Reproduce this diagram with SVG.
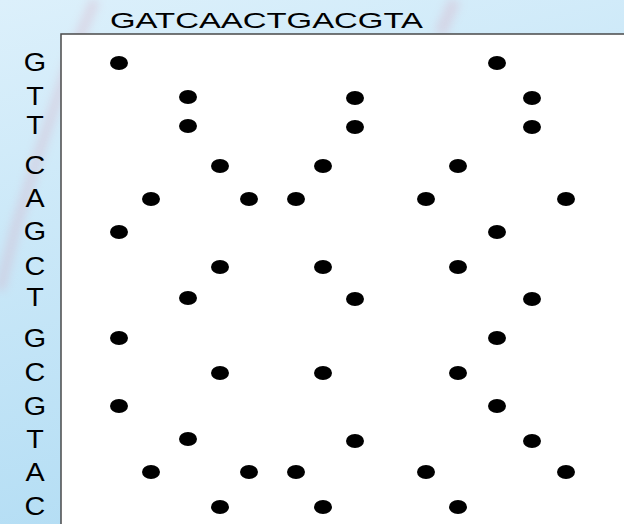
<svg xmlns="http://www.w3.org/2000/svg" width="624" height="524" viewBox="0 0 624 524">
<defs>
<linearGradient id="bg" x1="0" y1="0" x2="0.3" y2="1">
<stop offset="0" stop-color="#dcf0fb"/>
<stop offset="1" stop-color="#b3ddf4"/>
</linearGradient>
<filter id="blur" x="-50%" y="-50%" width="200%" height="200%"><feGaussianBlur stdDeviation="5"/></filter>
<style>
.lbl{font-family:"Liberation Sans",Arial,sans-serif;font-size:22px;fill:#000;}
.side{font-family:"Liberation Sans",Arial,sans-serif;font-size:25px;fill:#000;}
.dot{fill:#000;}
</style>
</defs>
<rect x="0" y="0" width="624" height="524" fill="url(#bg)"/>
<g filter="url(#blur)" opacity="0.3">
<path d="M95,0 L70,60 L40,150 L15,230 L0,290" stroke="#d9a0b8" stroke-width="10" fill="none"/>
<path d="M455,0 L440,34" stroke="#d9a0b8" stroke-width="12" fill="none"/>
</g>
<rect x="61" y="34" width="570" height="500" fill="#fff" stroke="#4a4a4a" stroke-width="1.5"/>
<g id="top-seq">
<text class="lbl" x="110" y="28" textLength="313" lengthAdjust="spacingAndGlyphs">GATCAACTGACGTA</text>
</g>
<g id="side-seq" class="side" text-anchor="middle" transform="translate(35,0) scale(1.15,1)">
<text x="0" y="71">G</text>
<text x="0" y="105">T</text>
<text x="0" y="134">T</text>
<text x="0" y="174">C</text>
<text x="0" y="207">A</text>
<text x="0" y="240">G</text>
<text x="0" y="275">C</text>
<text x="0" y="306">T</text>
<text x="0" y="347">G</text>
<text x="0" y="381">C</text>
<text x="0" y="415">G</text>
<text x="0" y="448">T</text>
<text x="0" y="481">A</text>
<text x="0" y="515">C</text>
</g>
<g id="dots" class="dot">
<ellipse cx="119" cy="63" rx="9" ry="7"/>
<ellipse cx="497" cy="63" rx="9" ry="7"/>
<ellipse cx="188" cy="97" rx="9" ry="7"/>
<ellipse cx="355" cy="98" rx="9" ry="7"/>
<ellipse cx="532" cy="98" rx="9" ry="7"/>
<ellipse cx="188" cy="126" rx="9" ry="7"/>
<ellipse cx="355" cy="127" rx="9" ry="7"/>
<ellipse cx="532" cy="127" rx="9" ry="7"/>
<ellipse cx="220" cy="166" rx="9" ry="7"/>
<ellipse cx="323" cy="166" rx="9" ry="7"/>
<ellipse cx="458" cy="166" rx="9" ry="7"/>
<ellipse cx="151" cy="199" rx="9" ry="7"/>
<ellipse cx="249" cy="199" rx="9" ry="7"/>
<ellipse cx="296" cy="199" rx="9" ry="7"/>
<ellipse cx="426" cy="199" rx="9" ry="7"/>
<ellipse cx="566" cy="199" rx="9" ry="7"/>
<ellipse cx="119" cy="232" rx="9" ry="7"/>
<ellipse cx="497" cy="232" rx="9" ry="7"/>
<ellipse cx="220" cy="267" rx="9" ry="7"/>
<ellipse cx="323" cy="267" rx="9" ry="7"/>
<ellipse cx="458" cy="267" rx="9" ry="7"/>
<ellipse cx="188" cy="298" rx="9" ry="7"/>
<ellipse cx="355" cy="299" rx="9" ry="7"/>
<ellipse cx="532" cy="299" rx="9" ry="7"/>
<ellipse cx="119" cy="338" rx="9" ry="7"/>
<ellipse cx="497" cy="338" rx="9" ry="7"/>
<ellipse cx="220" cy="373" rx="9" ry="7"/>
<ellipse cx="323" cy="373" rx="9" ry="7"/>
<ellipse cx="458" cy="373" rx="9" ry="7"/>
<ellipse cx="119" cy="406" rx="9" ry="7"/>
<ellipse cx="497" cy="406" rx="9" ry="7"/>
<ellipse cx="188" cy="439" rx="9" ry="7"/>
<ellipse cx="355" cy="441" rx="9" ry="7"/>
<ellipse cx="532" cy="441" rx="9" ry="7"/>
<ellipse cx="151" cy="472" rx="9" ry="7"/>
<ellipse cx="249" cy="472" rx="9" ry="7"/>
<ellipse cx="296" cy="472" rx="9" ry="7"/>
<ellipse cx="426" cy="472" rx="9" ry="7"/>
<ellipse cx="566" cy="472" rx="9" ry="7"/>
<ellipse cx="220" cy="507" rx="9" ry="7"/>
<ellipse cx="323" cy="507" rx="9" ry="7"/>
<ellipse cx="458" cy="507" rx="9" ry="7"/>
</g>
</svg>
